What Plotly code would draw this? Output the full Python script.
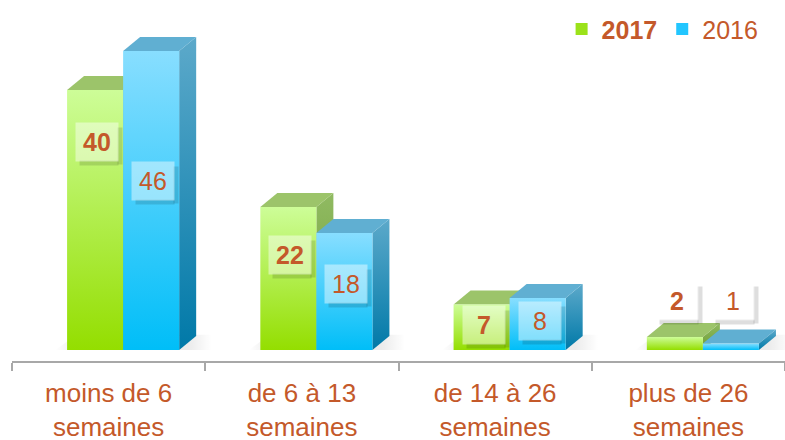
import plotly.graph_objects as go

# ---------------- data ----------------
categories = ["moins de 6<br>semaines", "de 6 à 13<br>semaines",
              "de 14 à 26<br>semaines", "plus de 26<br>semaines"]
series_names = ["2017", "2016"]
values_2017 = [40, 22, 7, 2]
values_2016 = [46, 18, 8, 1]

# ---------------- style ----------------
TEXT = "#C4592A"
FONT = "Liberation Sans, Arial, sans-serif"
BAR_W = 0.29          # front face width (category units)
GREEN_OFF = -0.215    # left edge of first bar relative to category centre
DX = 0.088            # 3D depth, x direction (category units)
DY = 2.15             # 3D depth, y direction (value units)
SMALL_LABEL_Y = 7.5   # label level for very small bars

styles = {
    "2017": dict(off=GREEN_OFF,
                 front=[[0, "#94DE00"], [1, "#CDFD98"]],
                 top="#9CC46A",
                 side=[[0, "#6E9E32"], [1, "#90BA62"]],
                 legend="#9BE21A", bold=True),
    "2016": dict(off=GREEN_OFF + BAR_W,
                 front=[[0, "#00BEF8"], [1, "#88DEFF"]],
                 top="#60AFD2",
                 side=[[0, "#0079A8"], [1, "#5CA9CA"]],
                 legend="#22C6FF", bold=False),
}
series_values = {"2017": values_2017, "2016": values_2016}


def label_level(name, v):
    if v < 5:
        return SMALL_LABEL_Y
    if name == "2017":
        return v * (0.5 + 0.0075 * v)
    return v * 0.565


fig = go.Figure()


def poly(xs, ys, **kw):
    fig.add_trace(go.Scatter(
        x=xs + [xs[0]], y=ys + [ys[0]], mode="lines", fill="toself",
        line=dict(width=0, color="rgba(0,0,0,0)"),
        hoverinfo="skip", showlegend=False, **kw))


annotations = []
SHADOW = "rgba(0,0,0,0.13)"
for i, cat in enumerate(categories):
    # soft floor shadow under the group
    gl = i + GREEN_OFF
    br = i + GREEN_OFF + 2 * BAR_W
    poly([gl - 0.06, br + DX + 0.08, br + DX + 0.08, gl + DX - 0.04],
         [0, 0, DY + 0.2, DY + 0.2],
         fillgradient=dict(type="horizontal",
                           colorscale=[[0, "rgba(0,0,0,0.0)"], [0.15, "rgba(0,0,0,0.08)"],
                                       [0.85, "rgba(0,0,0,0.08)"], [1, "rgba(0,0,0,0.0)"]]))
    for name in series_names:
        st = styles[name]
        v = series_values[name][i]
        x0 = i + st["off"]
        x1 = x0 + BAR_W
        # side face
        poly([x1, x1 + DX, x1 + DX, x1], [0, DY, v + DY, v],
             fillgradient=dict(type="vertical", colorscale=st["side"]))
        # top face
        poly([x0, x1, x1 + DX, x0 + DX], [v, v, v + DY, v + DY],
             fillcolor=st["top"])
        # front face
        poly([x0, x1, x1, x0], [0, 0, v, v],
             fillgradient=dict(type="vertical", colorscale=st["front"]))
        txt = f"<b>{v}</b>" if st["bold"] else str(v)
        lx = x0 + BAR_W / 2 + 0.01
        ly = label_level(name, v)
        # drop shadow of the label box (right and bottom strips)
        annotations.append(dict(
            x=lx, y=ly, xref="x", yref="y", xshift=23, yshift=-4,
            text=" ", showarrow=False, width=4, height=36, borderpad=0,
            bgcolor=SHADOW))
        annotations.append(dict(
            x=lx, y=ly, xref="x", yref="y", xshift=2, yshift=-21,
            text=" ", showarrow=False, width=38, height=4, borderpad=0,
            bgcolor=SHADOW))
        annotations.append(dict(
            x=lx, y=ly, xref="x", yref="y",
            text=txt, showarrow=False, width=40, height=36,
            bgcolor="rgba(255,255,255,0.45)",
            font=dict(family=FONT, size=25, color=TEXT)))

# legend entries
for name in series_names:
    st = styles[name]
    fig.add_trace(go.Scatter(
        x=[None], y=[None], mode="markers",
        name=f"<b>{name}</b>" if st["bold"] else name,
        marker=dict(symbol="square", size=14, color=st["legend"]),
        hoverinfo="skip"))

fig.update_layout(
    width=785, height=440,
    margin=dict(l=12, r=0, t=0, b=79, autoexpand=False),
    paper_bgcolor="white", plot_bgcolor="white",
    font=dict(family=FONT, color=TEXT),
    showlegend=True,
    legend=dict(orientation="h", x=0.711, xanchor="left", y=0.983, yanchor="top",
                font=dict(size=25, color=TEXT), bgcolor="rgba(0,0,0,0)",
                itemsizing="constant"),
    annotations=annotations,
    xaxis=dict(range=[-0.5, 3.5], showgrid=False, zeroline=False,
               automargin=False,
               showline=True, linecolor="#A8A8A8", linewidth=2,
               tickmode="array", tickvals=list(range(len(categories))),
               ticktext=categories, ticks="",
               tickfont=dict(family=FONT, size=26, color=TEXT),
               ticklabelstandoff=8,
               minor=dict(tickmode="array",
                          tickvals=[k - 0.5 for k in range(len(categories) + 1)],
                          ticks="outside", ticklen=8, tickwidth=2,
                          tickcolor="#A8A8A8", showgrid=False),
               fixedrange=True),
    yaxis=dict(range=[-1.69, 53.85], visible=False, showgrid=False,
               zeroline=False, fixedrange=True, automargin=False),
)

fig.write_html("out.html", config={"displayModeBar": False},
               post_script="document.body.style.margin='0';")
